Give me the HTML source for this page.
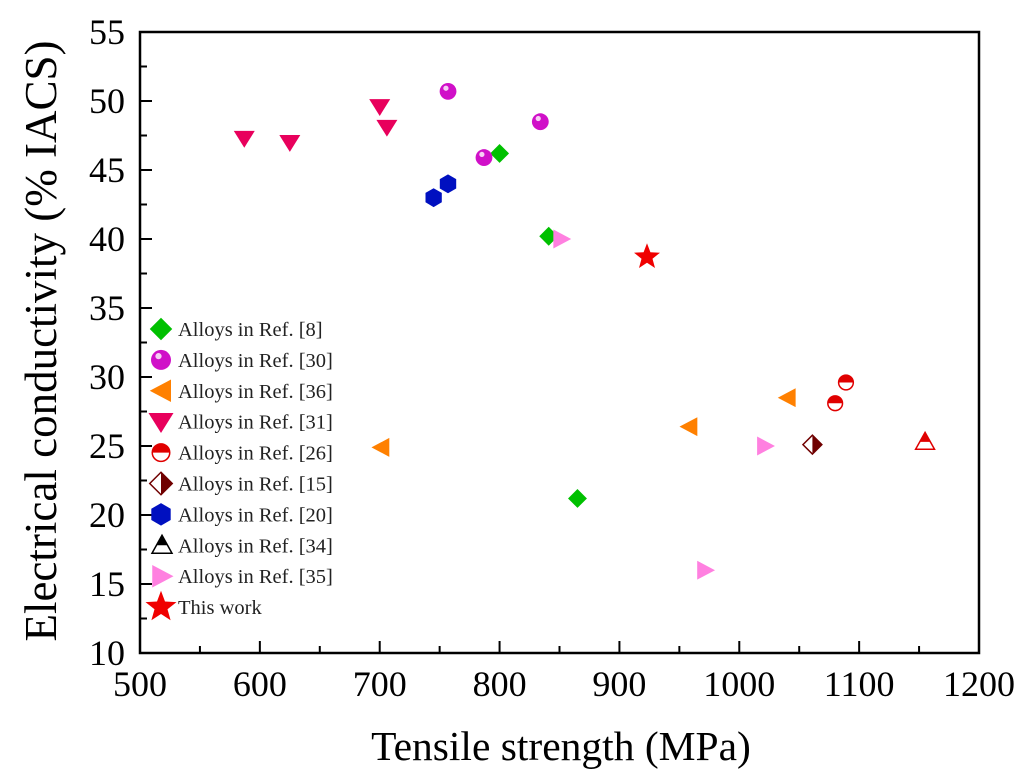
<!DOCTYPE html>
<html><head><meta charset="utf-8"><style>
html,body{margin:0;padding:0;background:#fff;}
svg{display:block;font-family:"Liberation Serif",serif;}
</style></head><body>
<svg id="chart" width="1033" height="780" xmlns="http://www.w3.org/2000/svg">
<rect x="140" y="32" width="839" height="621" fill="none" stroke="#000" stroke-width="2.5"/>
<g id="axes"></g>
<g id="marks"></g>
<g id="legend"></g>
<text x="561" y="760" font-size="41.5" text-anchor="middle">Tensile strength (MPa)</text>
<text transform="translate(56,341) rotate(-90)" font-size="45" text-anchor="middle">Electrical conductivity (% IACS)</text>
</svg>
<script>
const xTicks=[500,600,700,800,900,1000,1100,1200];
const yTicks=[10,15,20,25,30,35,40,45,50,55];
const seriesNames=["Alloys in Ref. [8]","Alloys in Ref. [30]","Alloys in Ref. [36]","Alloys in Ref. [31]","Alloys in Ref. [26]","Alloys in Ref. [15]","Alloys in Ref. [20]","Alloys in Ref. [34]","Alloys in Ref. [35]","This work"];
const ref8X=[800,841,865], ref8Y=[46.2,40.2,21.2];
const ref30X=[757,787,834], ref30Y=[50.7,45.9,48.5];
const ref36X=[701,958,1040], ref36Y=[24.9,26.4,28.5];
const ref31X=[587,625,700,706], ref31Y=[47.3,47.0,49.6,48.1];
const ref26X=[1080,1089], ref26Y=[28.1,29.6];
const ref15X=[1061], ref15Y=[25.1];
const ref20X=[745,757], ref20Y=[43.0,44.0];
const ref34X=[1155], ref34Y=[25.3];
const ref35X=[851,1021,971], ref35Y=[40.0,25.0,16.0];
const thisX=[923], thisY=[38.7];

const NS="http://www.w3.org/2000/svg";
const sx=v=>140+(v-500)*839/700;
const sy=v=>653-(v-10)*621/45;
function mk(tag,attrs,parent){const e=document.createElementNS(NS,tag);for(const k in attrs)e.setAttribute(k,attrs[k]);parent.appendChild(e);return e;}
const axes=document.getElementById('axes');
xTicks.forEach((t,i)=>{
  const x=sx(t);
  const l=mk('line',{x1:x,x2:x,y1:653,y2:641,stroke:'#000','stroke-width':2},axes);
  
  
  const tx=mk('text',{x:x,y:696,'font-size':36,'text-anchor':'middle'},axes);tx.textContent=t;
  
  
  if(i<xTicks.length-1){const m=sx(t+50);
    const ml=mk('line',{x1:m,x2:m,y1:653,y2:646,stroke:'#000','stroke-width':2},axes);
    
    }
});
yTicks.forEach((t,i)=>{
  const y=sy(t);
  const l=mk('line',{x1:140,x2:152,y1:y,y2:y,stroke:'#000','stroke-width':2},axes);
  
  
  const tx=mk('text',{x:125,y:y+12,'font-size':36,'text-anchor':'end'},axes);tx.textContent=t;
  
  
  if(i<yTicks.length-1){const m=sy(t+2.5);
    const ml=mk('line',{x1:140,x2:147,y1:m,y2:m,stroke:'#000','stroke-width':2},axes);
    
    }
});
function star(cx,cy,R,r){let p=[];for(let i=0;i<10;i++){const a=-Math.PI/2+i*Math.PI/5,rr=i%2?r:R;p.push((cx+rr*Math.cos(a)).toFixed(1)+','+(cy+rr*Math.sin(a)).toFixed(1));}return p.join(' ');}
function hex(cx,cy,r){let p=[];for(let i=0;i<6;i++){const a=Math.PI/6+i*Math.PI/3;p.push((cx+r*Math.cos(a)).toFixed(1)+','+(cy+r*Math.sin(a)).toFixed(1));}return p.join(' ');}
function drawMarker(type,x,y,g,k){
  k=k||1;
  const a=9*k;
  switch(type){
    case 0: mk('polygon',{points:`${x},${y-a} ${x+a},${y} ${x},${y+a} ${x-a},${y}`,fill:'#00c000'},g);break;
    case 1: mk('circle',{cx:x,cy:y,r:8*k,fill:'#d010c8'},g);mk('circle',{cx:x-2*k,cy:y-3*k,r:2.5*k,fill:'#fff',opacity:0.8},g);break;
    case 2: mk('polygon',{points:`${x-a},${y} ${x+8*k},${y-a} ${x+8*k},${y+a}`,fill:'#ff8000'},g);break;
    case 3: mk('polygon',{points:`${x-10*k},${y-7*k} ${x+10*k},${y-7*k} ${x},${y+9*k}`,fill:'#e8005c'},g);break;
    case 4: mk('circle',{cx:x,cy:y,r:7*k,fill:'#fff',stroke:'#e00000','stroke-width':1.5},g);mk('path',{d:`M${x-7*k},${y} A${7*k},${7*k} 0 0 1 ${x+7*k},${y} Z`,fill:'#e00000'},g);break;
    case 5: mk('polygon',{points:`${x},${y-a} ${x+a},${y} ${x},${y+a} ${x-a},${y}`,fill:'#fff',stroke:'#700000','stroke-width':1.5},g);mk('polygon',{points:`${x},${y-a} ${x+a},${y} ${x},${y+a}`,fill:'#700000'},g);break;
    case 6: mk('polygon',{points:hex(x,y,a),fill:'#0010c0'},g);break;
    case 7: mk('polygon',{points:`${x},${y-a} ${x+a},${y+7*k} ${x-a},${y+7*k}`,fill:'#fff',stroke:'#e00000','stroke-width':1.5},g);mk('polygon',{points:`${x},${y-a} ${x+5*k},${y} ${x-5*k},${y}`,fill:'#e00000'},g);break;
    case 8: mk('polygon',{points:`${x+10*k},${y} ${x-7*k},${y-a} ${x-7*k},${y+a}`,fill:'#ff80e0'},g);break;
    case 9: mk('polygon',{points:star(x,y,13*k,5.5*k),fill:'#f00000'},g);break;
  }
}
const allX=[ref8X,ref30X,ref36X,ref31X,ref26X,ref15X,ref20X,ref34X,ref35X,thisX];
const allY=[ref8Y,ref30Y,ref36Y,ref31Y,ref26Y,ref15Y,ref20Y,ref34Y,ref35Y,thisY];
const marks=document.getElementById('marks');
allX.forEach((xs,s)=>{xs.forEach((xv,i)=>{
  const g=mk('g',{},marks);
  
  
  drawMarker(s,sx(xv),sy(allY[s][i]),g,1.05);
});});
const legend=document.getElementById('legend');
seriesNames.forEach((n,i)=>{
  const y=329+i*30.9;
  const g=mk('g',{},legend);
  
  
  if(i===7){mk('polygon',{points:`162,${y-10} 172,${y+8} 152,${y+8}`,fill:'#fff',stroke:'#000','stroke-width':1.5},g);mk('polygon',{points:`162,${y-10} 167,${y} 157,${y}`,fill:'#000'},g);}
  else drawMarker(i,161,y,g,1.25);
  const tx=mk('text',{x:178,y:y+7,'font-size':20.5,fill:'#222'},g);tx.textContent=n;
});
</script>
</body></html>
